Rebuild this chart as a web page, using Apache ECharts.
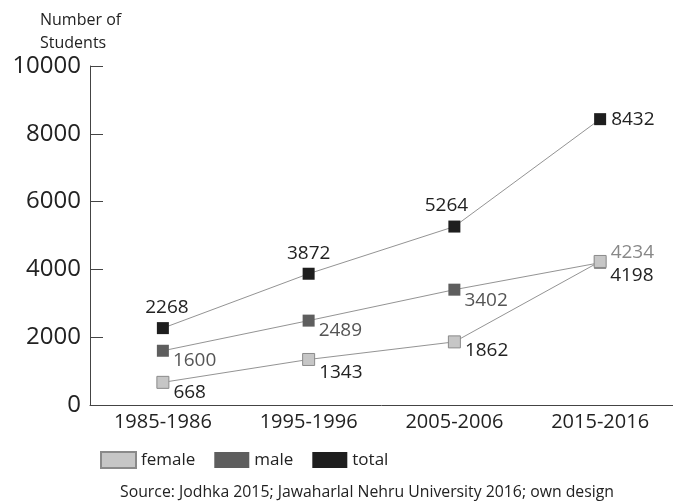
<!DOCTYPE html>
<html>
<head>
<meta charset="utf-8">
<script src="https://cdn.jsdelivr.net/npm/echarts@6/dist/echarts.min.js"></script>
<style>html,body{margin:0;padding:0;background:#fff;}#c{width:673px;height:502px;}</style>
</head>
<body>
<div id="c"></div>
<script>
var categories = ['1985-1986', '1995-1996', '2005-2006', '2015-2016'];
var female = [668, 1343, 1862, 4234];
var male = [1600, 2489, 3402, 4198];
var total = [2268, 3872, 5264, 8432];
var yTicks = [0, 2000, 4000, 6000, 8000, 10000];

var FONT = '"Open Sans", sans-serif';

// label styling per point (style only)
var femaleLabelStyle = [
  {position: 'right', offset: [0, 10], color: '#222'},
  {position: 'right', offset: [0, 13], color: '#222'},
  {position: 'right', offset: [0, 9], color: '#222'},
  {position: 'right', offset: [0, -9], color: '#888'}
];
var maleLabelStyle = [
  {position: 'right', offset: [0, 10], color: '#555'},
  {position: 'right', offset: [0, 10], color: '#555'},
  {position: 'right', offset: [0, 11], color: '#555'},
  {position: 'right', offset: [0, 13], color: '#222'}
];
var totalLabelStyle = [
  {position: 'top', offset: [4, 0], color: '#222'},
  {position: 'top', offset: [0, 0], color: '#222'},
  {position: 'top', offset: [-8, 0], color: '#222'},
  {position: 'right', offset: [0, 0], color: '#222'}
];

function build(vals, styles) {
  return vals.map(function (v, i) {
    var s = styles[i];
    return {value: v, label: {position: s.position, offset: s.offset, color: s.color}};
  });
}

var chart = echarts.init(document.getElementById('c'));
chart.setOption({
  animation: false,
  backgroundColor: '#fff',
  textStyle: {fontFamily: FONT},
  title: [
    {text: 'Number of\nStudents', left: 35, top: 4,
     textStyle: {fontFamily: FONT, fontSize: 16, fontWeight: 'normal', color: '#222', lineHeight: 23}},
    {text: 'Source: Jodhka 2015; Jawaharlal Nehru University 2016; own design', left: 362, textAlign: 'center', top: 479,
     textStyle: {fontFamily: FONT, fontSize: 15.8, fontWeight: 'normal', color: '#222'}}
  ],
  legend: {
    data: ['female', 'male', 'total'],
    left: 100, top: 451,
    padding: 0,
    icon: 'rect',
    itemWidth: 35, itemHeight: 16, itemGap: 19,
    textStyle: {fontFamily: FONT, fontSize: 17, color: '#222'}
  },
  grid: {left: 90, right: 0, top: 66, bottom: 97, containLabel: false},
  xAxis: {
    type: 'category',
    data: categories,
    boundaryGap: true,
    axisLine: {lineStyle: {color: '#444', width: 1}},
    axisTick: {inside: true, length: 8, lineStyle: {color: '#444'}},
    axisLabel: {fontFamily: FONT, fontSize: 20, color: '#222', margin: 7}
  },
  yAxis: {
    type: 'value',
    min: yTicks[0], max: yTicks[yTicks.length - 1], interval: 2000,
    axisLine: {show: true, lineStyle: {color: '#444', width: 1}},
    axisTick: {show: true, inside: true, length: 13, lineStyle: {color: '#444'}},
    axisLabel: {fontFamily: FONT, fontSize: 24, color: '#222', margin: 9,
                formatter: function (v) { return String(v); }},
    splitLine: {show: false}
  },
  series: [
    {
      name: 'total', type: 'line', data: build(total, totalLabelStyle),
      symbol: 'rect', symbolSize: 12, z: 3,
      lineStyle: {color: '#777', width: 0.8},
      itemStyle: {color: '#1e1e1e'},
      label: {show: true, fontFamily: FONT, fontSize: 19, distance: 5}
    },
    {
      name: 'male', type: 'line', data: build(male, maleLabelStyle),
      symbol: 'rect', symbolSize: 12, z: 4,
      lineStyle: {color: '#777', width: 0.8},
      itemStyle: {color: '#5e5e5e'},
      label: {show: true, fontFamily: FONT, fontSize: 19, distance: 4}
    },
    {
      name: 'female', type: 'line', data: build(female, femaleLabelStyle),
      symbol: 'rect', symbolSize: 12, z: 5,
      lineStyle: {color: '#777', width: 0.8},
      itemStyle: {color: '#c6c6c6', borderColor: '#8a8a8a', borderWidth: 1},
      label: {show: true, fontFamily: FONT, fontSize: 19, distance: 4}
    }
  ]
});
</script>
</body>
</html>
